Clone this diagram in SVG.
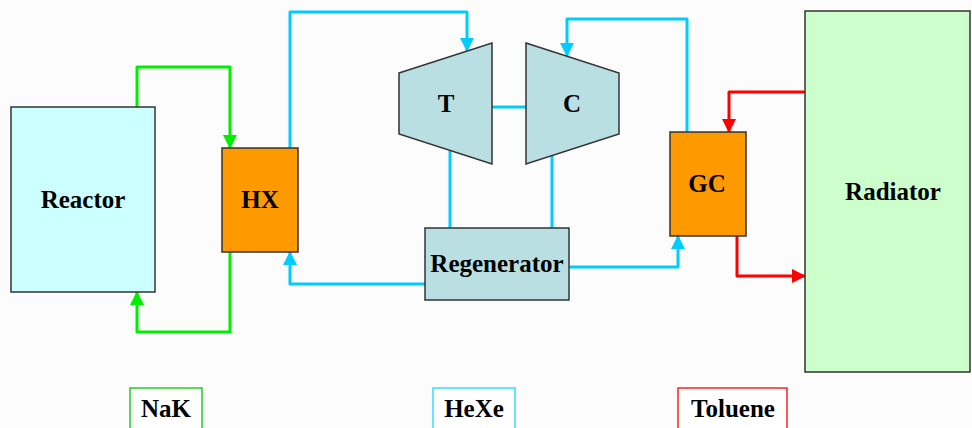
<svg xmlns="http://www.w3.org/2000/svg" width="972" height="428" viewBox="0 0 972 428">
<defs>
<style>
.box{stroke:#333;stroke-width:1.5}
.lbl{font-family:"Liberation Serif","Times New Roman",serif;font-weight:bold;font-size:25px;fill:#000;text-anchor:middle}
.ln{fill:none;stroke-width:3;stroke-linejoin:round}
.g{stroke:#00ee00}
.b{stroke:#00ccff}
.r{stroke:#ff0000}
.leg{fill:#fff;stroke-width:1.5}
</style>
<marker id="ag" markerUnits="userSpaceOnUse" markerWidth="14" markerHeight="14" refX="13" refY="7" orient="auto"><path d="M0,0 L14,7 L0,14 z" fill="#00ee00"/></marker>
<marker id="ab" markerUnits="userSpaceOnUse" markerWidth="14" markerHeight="14" refX="13" refY="7" orient="auto"><path d="M0,0 L14,7 L0,14 z" fill="#00ccff"/></marker>
<marker id="ar" markerUnits="userSpaceOnUse" markerWidth="14" markerHeight="14" refX="13" refY="7" orient="auto"><path d="M0,0 L14,7 L0,14 z" fill="#ff0000"/></marker>
</defs>
<rect width="972" height="428" fill="#fcfcfc"/>
<g id="connectors">
<path class="ln g" d="M137,107 V67 H230 V148" marker-end="url(#ag)"/>
<path class="ln g" d="M230,252 V332 H137 V292" marker-end="url(#ag)"/>
<path class="ln b" d="M290,148 V12 H467 V51" marker-end="url(#ab)"/>
<path class="ln b" d="M450,151 V228"/>
<path class="ln b" d="M552,155 V228"/>
<path class="ln b" d="M492,107 H526"/>
<path class="ln b" d="M425,284 H290 V252" marker-end="url(#ab)"/>
<path class="ln b" d="M569,267 H678 V236" marker-end="url(#ab)"/>
<path class="ln b" d="M687,132 V19 H567 V56" marker-end="url(#ab)"/>
<path class="ln r" d="M805,92 H729 V132" marker-end="url(#ar)"/>
<path class="ln r" d="M737,236 V276 H805" marker-end="url(#ar)"/>
</g>
<g id="reactor"><rect class="box" x="11" y="107" width="144" height="185" fill="#ccffff"/><text class="lbl" x="83" y="208">Reactor</text></g>
<g id="hx"><rect class="box" x="222" y="148" width="76" height="104" fill="#ff9900"/><text class="lbl" x="260" y="208">HX</text></g>
<g id="turbine"><polygon class="box" points="399,73 492,43 492,164 399,134" fill="#b9dfe2"/><text class="lbl" x="446" y="112">T</text></g>
<g id="compressor"><polygon class="box" points="526,43 619,73 619,134 526,164" fill="#b9dfe2"/><text class="lbl" x="572" y="112">C</text></g>
<g id="regenerator"><rect class="box" x="425" y="228" width="144" height="72" fill="#b9dfe2"/><text class="lbl" x="497" y="272">Regenerator</text></g>
<g id="gc"><rect class="box" x="670" y="132" width="76" height="104" fill="#ff9900"/><text class="lbl" x="707" y="192">GC</text></g>
<g id="radiator"><rect class="box" x="805" y="11" width="165" height="361" fill="#ccffcc"/><text class="lbl" x="893" y="200">Radiator</text></g>
<g id="legend-nak"><rect class="leg" x="130" y="388" width="72" height="50" stroke="#22cc22"/><text class="lbl" x="166" y="417">NaK</text></g>
<g id="legend-hexe"><rect class="leg" x="433" y="388" width="82" height="50" stroke="#33ddff"/><text class="lbl" x="474" y="417">HeXe</text></g>
<g id="legend-toluene"><rect class="leg" x="678" y="388" width="109" height="50" stroke="#ff2222"/><text class="lbl" x="733" y="417">Toluene</text></g>
</svg>
